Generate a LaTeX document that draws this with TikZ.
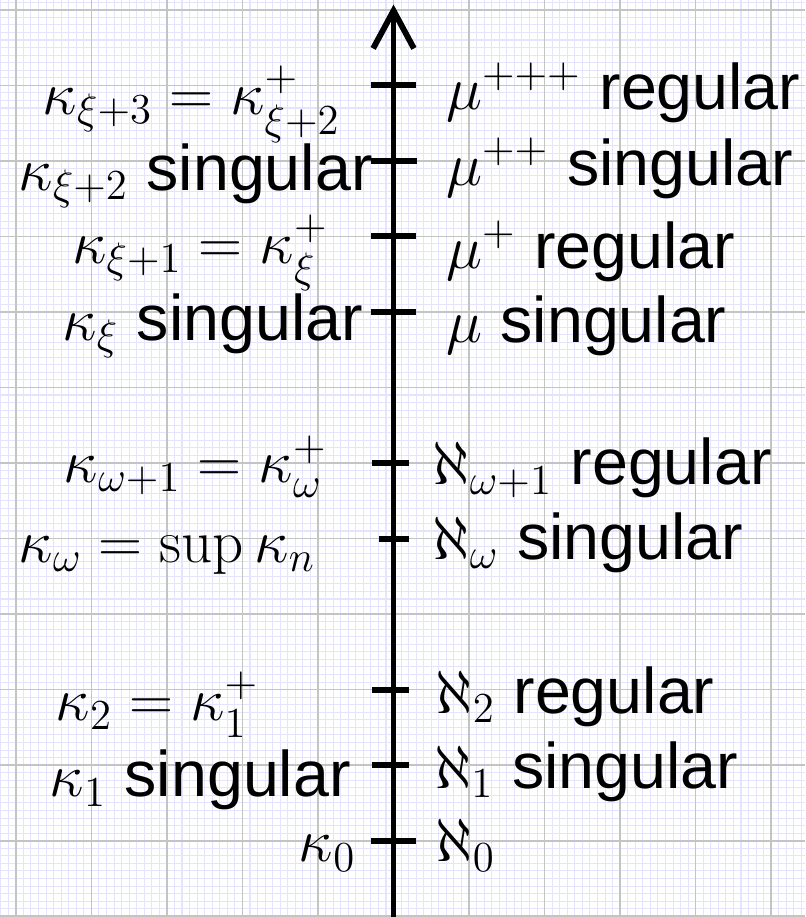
\RequirePackage{fix-cm}
\documentclass[tikz,border=0pt]{standalone}
\usepackage{fontspec}
\setsansfont{Liberation Sans}
\usepackage{amsmath}
\usepackage{xcolor}
\usetikzlibrary{arrows.meta}
\definecolor{gridlo}{RGB}{228,228,255}
\definecolor{gridhi}{RGB}{196,196,196}
\newcommand{\wrd}[1]{{\sffamily\fontsize{24.3}{28}\selectfont #1}}

\begin{document}
\begin{tikzpicture}[
  lbl/.style={anchor=base west, inner sep=0pt, font=\fontsize{23}{27}\selectfont},
  minorgrid/.style={draw=gridlo, line width=0.4pt},
  majorgrid/.style={draw=gridhi, line width=0.6pt},
  axis/.style={line width=2.2pt, -{Straight Barb[length=0.5cm, width=0.54cm]}},
  tk/.style={line width=2.3pt}]
\useasboundingbox (-5.21,-1.01) rectangle (5.45,11.13);
\draw[minorgrid, step=0.1] (-5.21,-1.01) grid (5.45,11.13);
\draw[majorgrid, step=1] (-5.21,-1.01) grid (5.45,11.13);
% the line of cardinals
\coordinate (bot) at (0,-1.02);
\coordinate (top) at (0,11.07);
\draw[axis] (bot) -- (top);
\foreach \y/\l/\r in {0/0.3/0.3, 1/0.29/0.21, 2/0.29/0.21, 4/0.19/0.2, 5/0.29/0.2,
                      7/0.3/0.3, 8/0.3/0.3, 9/0.3/0.31, 10/0.3/0.3}
  \draw[tk] (-\l,\y) -- (\r,\y);
% left labels
\node[lbl] (kx3) at (-4.65,9.61) {$\kappa_{\xi+3}=\kappa^+_{\xi+2}$};
\node[lbl] (kx2) at (-4.97,8.61) {$\kappa_{\xi+2}$ \wrd{singular}};
\node[lbl] (kx1) at (-4.26,7.64) {$\kappa_{\xi+1}=\kappa^+_{\xi}$};
\node[lbl] (kx0) at (-4.39,6.62) {$\kappa_{\xi}$ \wrd{singular}};
\node[lbl] (kw1) at (-4.37,4.74) {$\kappa_{\omega+1}=\kappa^+_{\omega}$};
\node[lbl] (kw0) at (-4.97,3.68) {$\kappa_{\omega}=\sup\kappa_n$};
\node[lbl] (kn2) at (-4.48,1.59) {$\kappa_2=\kappa^+_1$};
\node[lbl] (kn1) at (-4.56,0.58) {$\kappa_1$ \wrd{singular}};
\node[lbl] (kn0) at (-1.26,-0.28) {$\kappa_0$};
% right labels
\node[lbl] (mu3) at (0.69,9.68) {$\mu^{+++}$ \wrd{regular}};
\node[lbl] (mu2) at (0.69,8.68) {$\mu^{++}$ \wrd{singular}};
\node[lbl] (mu1) at (0.69,7.58) {$\mu^{+}$ \wrd{regular}};
\node[lbl] (mu0) at (0.69,6.59) {$\mu$ \wrd{singular}};
\node[lbl] (aw1) at (0.51,4.71) {$\aleph_{\omega+1}$ \wrd{regular}};
\node[lbl] (aw0) at (0.51,3.72) {$\aleph_{\omega}$ \wrd{singular}};
\node[lbl] (an2) at (0.55,1.69) {$\aleph_2$ \wrd{regular}};
\node[lbl] (an1) at (0.53,0.69) {$\aleph_1$ \wrd{singular}};
\node[lbl] (an0) at (0.55,-0.28) {$\aleph_0$};
\end{tikzpicture}
\end{document}
